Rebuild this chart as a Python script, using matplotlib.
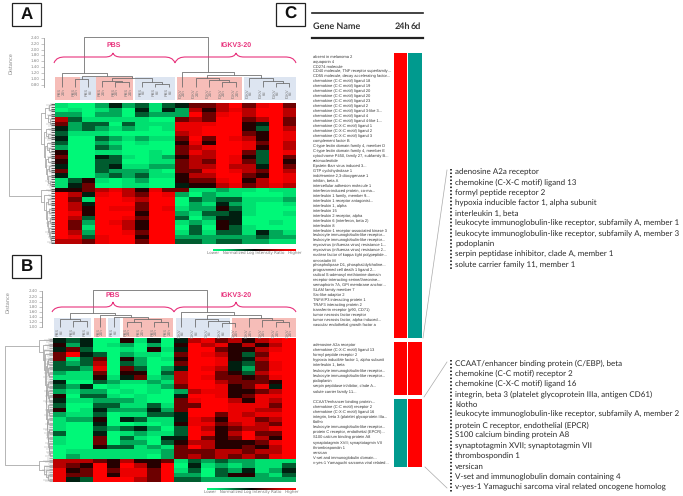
import matplotlib
matplotlib.use("Agg")
import numpy as np
import matplotlib.pyplot as plt
from matplotlib.colors import LinearSegmentedColormap
from matplotlib.path import Path
from matplotlib.patches import PathPatch

plt.rcParams["text.hinting"] = "none"
plt.rcParams["text.hinting_factor"] = 1

# HEATMAP VALUES (0 = full green, 9 = full red, one string per gene row)
heat_a = [
    "100242313466796896", "010120414275787997", "220220322296897997",
    "731111100676996796", "623303111888995496", "423212101889995397",
    "311100000789996598", "400321211696987598", "300210100585998697",
    "200320000678998597", "500110010687996398", "600431012577985396",
    "500330011676986395", "400341122677977496", "600322210668987697",
    "400232311577996598", "135101200566895798", "146001100455786787",
    "556787586611211011", "974897698202110001", "961998799032331112",
    "974999699021421001", "975988698122531000", "985999599213341001",
    "973998699302440000", "962987599121540010", "961997599030531000",
    "972998699131331421", "983899599222222322", "776899699332332211",
]
heat_b = [
    "434005140478675789", "524012020597857579", "463001051499655789",
    "694302110698753699", "613605201599854799", "323703200699843689",
    "332806302498742689", "211605503799653799", "111514612798665689",
    "400321121799766659", "324010012699856849", "212201010278855679",
    "503310100499856889", "411222100689975879", "300331131669988869",
    "501422242699988779", "211301133499687889", "122504311487588679",
    "100400101588678769", "100323420397567789", "300401211398579669",
    "100603104496569759", "100602203577555689", "000533121697556579",
    "011111112666776779", "021111102676767689",
    "777657556132322111", "765959759041212113", "856968869130324124",
    "866958869220355213", "843999769332222222",
]

# ROW TREES: (merge height, left, right), leaves are row numbers
row_tree_a = (46,
    (14, (10, (6, 0, 1), (7, 2, (5, 3, 4))),
         (11, (9, 5, (7, 6, 7)),
              (10, (8, 8, (6, 9, 10)),
                   (9, (7, 11, 12), (8, (6, 13, 14), (7, 15, (5, 16, 17))))))),
    (14, 18, (11, 19, (9, (7, 20, 21),
                       (8, (6, 22, 23), (7, (5, 24, 25), (6, 26, (5, 27, (4, 28, 29)))))))))
row_tree_b = (48,
    (14, 0, (10, 1, (9, 2, (8, 3,
        (7, (6, (5, 4, 5), (5, 6, (4, 7, 8))),
            (7, (6, (5, 9, 10), (5, 11, (4, 12, 13))),
                (6, (5, 14, (4, 15, 16)),
                    (6, (5, 17, 18), (5, (4, 19, 20), (5, 21, (4, 22, (4, 23, (3, 24, 25))))))))))))),
    (14, 26, (9, 27, (7, 28, (5, 29, 30)))))
tuft_a = [9, 7, 8, 6, 9, 7, 8, 10, 7, 9, 6, 8, 7, 9, 8, 7, 10, 8,
          9, 7, 8, 9, 6, 8, 7, 9, 8, 10, 7, 8]
tuft_b = [9, 8, 10, 7, 9, 8, 7, 9, 10, 8, 7, 9, 8, 10, 7, 8, 9, 7, 8, 10, 9, 7, 8, 9, 7, 8,
          10, 9, 11, 9, 10]

# COLUMN TREES: heights measured up from the sample leaves
col_tree_a = (50,
    (14, 0, (11, (8, 1, 2), (9, (6, 3, (5, 4, 5)), (5, 6, (3, 7, 8))))),
    (15, 9, (12, (9, 10, (7, 11, (5, 12, 13))), (9, 14, (6, 15, (4, 16, 17))))))
col_tree_b = (37,
    (14, (8, 0, (6, 1, 2)), (12, 3, (10, 4, (8, (5, 5, 6), (5, 7, 8))))),
    (15, 9, (12, (8, 10, (6, 11, (4, 12, 13))), (9, 14, (7, 15, (5, 16, 17))))))

# SAMPLE GROUPS (first column edge, last column edge, group)
groups_a = [(-0.5, 1.33, "p"), (1.37, 2.56, "b"), (2.56, 5.3, "p"),
            (5.5, 8.45, "b"), (8.6, 13.5, "p"), (13.6, 17.5, "b")]
groups_b = [(-0.43, 2.31, "b"), (2.54, 3.43, "p"), (3.57, 4.46, "b"),
            (4.69, 8.39, "p"), (8.61, 12.6, "b"), (12.76, 17.5, "p")]
samples_a = ["PBS\n24h"] * 2 + ["PBS\n6d"] + ["PBS\n24h"] * 3 + ["PBS\n6d"] * 3 + \
            ["IGKV\n24h"] * 5 + ["IGKV\n6d"] * 4
samples_b = ["PBS\n6d"] * 3 + ["PBS\n24h"] + ["PBS\n6d"] + ["PBS\n24h"] * 4 + \
            ["IGKV\n6d"] * 4 + ["IGKV\n24h"] * 5
distance_ticks_a = [2, 8, 14, 20, 26, 32, 37, 43, 49]
distance_labels_a = ["0.80", "1.00", "1.20", "1.40", "1.60", "1.80", "2.00", "2.20", "2.40"]
distance_ticks_b = [0, 5, 10, 15, 20, 25, 30, 36]
distance_labels_b = ["1.00", "1.20", "1.40", "1.60", "1.80", "2.00", "2.20", "2.40"]

# GENE LISTS
genes_top = [
    "absent in melanoma 2", "aquaporin 4", "CD274 molecule",
    "CD40 molecule, TNF receptor superfamily...", "CD55 molecule, decay accelerating factor...",
    "chemokine (C-C motif) ligand 18", "chemokine (C-C motif) ligand 19",
    "chemokine (C-C motif) ligand 20", "chemokine (C-C motif) ligand 20",
    "chemokine (C-C motif) ligand 23", "chemokine (C-C motif) ligand 2",
    "chemokine (C-C motif) ligand 3-like 3...", "chemokine (C-C motif) ligand 4",
    "chemokine (C-C motif) ligand 4-like 1...", "chemokine (C-X-C motif) ligand 1",
    "chemokine (C-X-C motif) ligand 2", "chemokine (C-X-C motif) ligand 3",
    "complement factor B", "C-type lectin domain family 4, member D",
    "C-type lectin domain family 4, member E", "cytochrome P450, family 27, subfamily B...",
    "ectonucleotide", "Epstein-Barr virus induced 3...", "GTP cyclohydrolase 1",
    "indoleamine 2,3-dioxygenase 1", "inhibin, beta A", "intercellular adhesion molecule 1",
    "interferon-induced protein, co-ma...", "interleukin 1 family, member 9...",
    "interleukin 1 receptor antagonist...", "interleukin 1, alpha", "interleukin 15",
    "interleukin 2 receptor, alpha", "interleukin 6 (interferon, beta 2)", "interleukin 8",
    "interleukin-1 receptor-associated kinase 3", "leukocyte immunoglobulin-like receptor...",
    "leukocyte immunoglobulin-like receptor...", "myxovirus (influenza virus) resistance 1...",
    "myxovirus (influenza virus) resistance 2...", "nuclear factor of kappa light polypeptide...",
    "oncostatin M", "phospholipase D1, phosphatidylcholine...", "programmed cell death 1 ligand 2...",
    "radical S-adenosyl methionine domain", "receptor-interacting serine/threonine...",
    "semaphorin 7A, GPI membrane anchor...", "SLAM family member 7", "Src-like-adaptor 2",
    "TNFAIP3 interacting protein 1", "TRAF3 interacting protein 2",
    "transferrin receptor (p90, CD71)", "tumor necrosis factor receptor",
    "tumor necrosis factor, alpha-induced...", "vascular endothelial growth factor a",
]
genes_mid = [
    "adenosine A2a receptor", "chemokine (C-X-C motif) ligand 13", "formyl peptide receptor 2",
    "hypoxia inducible factor 1, alpha subunit", "interleukin 1, beta",
    "leukocyte immunoglobulin-like receptor...", "leukocyte immunoglobulin-like receptor...",
    "podoplanin", "serpin peptidase inhibitor, clade A...", "solute carrier family 11...",
]
genes_low = [
    "CCAAT/enhancer binding protein...", "chemokine (C-C motif) receptor 2",
    "chemokine (C-X-C motif) ligand 16", "integrin, beta 3 (platelet glycoprotein IIIa...",
    "klotho", "leukocyte immunoglobulin-like receptor...", "protein C receptor, endothelial (EPCR)...",
    "S100 calcium binding protein A8", "synaptotagmin XVII; synaptotagmin VII", "thrombospondin 1",
    "versican", "V-set and immunoglobulin domain...", "v-yes-1 Yamaguchi sarcoma viral related...",
]
callout_mid = [
    "adenosine A2a receptor", "chemokine (C-X-C motif) ligand 13", "formyl peptide receptor 2",
    "hypoxia inducible factor 1, alpha subunit", "interleukin 1, beta",
    "leukocyte immunoglobulin-like receptor, subfamily A, member 1",
    "leukocyte immunoglobulin-like receptor, subfamily A, member 3",
    "podoplanin", "serpin peptidase inhibitor, clade A, member 1", "solute carrier family 11, member 1",
]
callout_low = [
    "CCAAT/enhancer binding protein (C/EBP), beta", "chemokine (C-C motif) receptor 2",
    "chemokine (C-X-C motif) ligand 16", "integrin, beta 3 (platelet glycoprotein IIIa, antigen CD61)",
    "klotho", "leukocyte immunoglobulin-like receptor, subfamily A, member 2",
    "protein C receptor, endothelial (EPCR)", "S100 calcium binding protein A8",
    "synaptotagmin XVII; synaptotagmin VII", "thrombospondin 1", "versican",
    "V-set and immunoglobulin domain containing 4",
    "v-yes-1 Yamaguchi sarcoma viral related oncogene homolog",
]
# fold change direction per gene block, 24h then 6d
block_24h = ["red", "red", "teal"]
block_6d = ["teal", "red", "red"]

W, H = 683, 496
GREEN_RED = LinearSegmentedColormap.from_list("gr", [
    (0, "#00f878"), (0.11, "#00e070"), (0.22, "#00a858"), (0.33, "#005e30"), (0.5, "#000000"),
    (0.67, "#700000"), (0.78, "#b80000"), (0.89, "#ea0000"), (1, "#ff0000")])
BAR_COLORS = {"red": "#ff0000", "teal": "#009a8e"}
GROUP_COLORS = {"p": "#f6bdb8", "b": "#dde5f1"}
PINK = "#e8327c"


def px_axes(fig, x0, y0, x1, y1):
    # axes from pixel box, y measured from the top of the picture
    return fig.add_axes([x0 / W, 1 - y1 / H, (x1 - x0) / W, (y1 - y0) / H])


def draw_tree(ax, node, vertical, color, lw):
    # returns leaf position and height of this node
    if isinstance(node, int):
        return float(node), 0.0
    h, left, right = node
    p1, h1 = draw_tree(ax, left, vertical, color, lw)
    p2, h2 = draw_tree(ax, right, vertical, color, lw)
    xs = [p1, p1, p2, p2]
    ys = [h1, h, h, h2]
    if vertical:
        ax.plot(xs, ys, color=color, lw=lw, solid_capstyle="butt")
    else:
        ax.plot(ys, xs, color=color, lw=lw, solid_capstyle="butt")
    return (p1 + p2) / 2, h


def panel(fig, box, rows, row_tree, tuft, col_tree, groups, samples, leaf_y, rect_y,
          tick_vals, tick_labels, spine_x, dist_x, tuft_color):
    x0, y0, x1, y1 = box
    data = np.array([[int(c) for c in r] for r in rows])
    ax = px_axes(fig, x0, y0, x1, y1)
    ax.imshow(data, cmap=GREEN_RED, vmin=0, vmax=9, aspect="auto", interpolation="nearest")
    ax.axis("off")

    # row dendrogram on the left
    left = px_axes(fig, 0, y0, x0, y1)
    left.set_ylim(data.shape[0] - 0.5, -0.5)
    left.set_xlim(x0, 0)
    left.axis("off")
    draw_tree(left, row_tree, False, "#999999", 0.5)
    for i, t in enumerate(tuft):
        left.hlines([i - 0.3, i, i + 0.3], 0, [t * 0.6, t, t * 0.8], color="#aaaaaa", lw=0.35)
        left.hlines([i - 0.25, i + 0.25], 0, 4.5, color=tuft_color, lw=0.5)

    # column dendrogram on top
    top_px, bottom_px = leaf_y - 60, rect_y[1]
    tree = px_axes(fig, x0, top_px, x1, bottom_px)
    tree.set_xlim(-0.5, data.shape[1] - 0.5)
    tree.set_ylim(leaf_y - bottom_px, leaf_y - top_px)
    tree.patch.set_alpha(0)
    for a, b, g in groups:
        tree.fill_between([a, b], leaf_y - rect_y[0], leaf_y - rect_y[1],
                          color=GROUP_COLORS[g], lw=0)
    draw_tree(tree, col_tree, True, "#666666", 0.55)
    for c, s in enumerate(samples):
        tree.text(c, -1, s, rotation=90, fontsize=2.6, color="#777777",
                  ha="center", va="top", linespacing=1.0, fontfamily="Liberation Sans")
    tree.set_xticks([])
    for s in ["top", "right", "bottom"]:
        tree.spines[s].set_visible(False)
    tree.spines["left"].set_position(("outward", (x0 - spine_x) * 0.72))
    tree.spines["left"].set_bounds(0, max(tick_vals))
    tree.spines["left"].set_color("#999999")
    tree.spines["left"].set_linewidth(0.6)
    tree.set_yticks(tick_vals, tick_labels)
    tree.tick_params(axis="y", length=2, width=0.4, color="#999999", labelsize=2.6,
                     labelcolor="#888888", pad=1)
    tree.set_ylabel("Distance", fontsize=3.4, color="#888888", labelpad=0)
    tree.yaxis.set_label_coords((dist_x - x0) / (x1 - x0), 0.5)


def brace(ax, x0, x1, xp, y_end, y_flat, y_peak):
    verts = [(x0, y_end), (x0 + 2, y_flat + 1), (x0 + 6, y_flat), (x0 + 11, y_flat),
             (xp - 8, y_flat), (xp - 4, y_flat), (xp - 1, y_flat - 1), (xp, y_peak),
             (xp + 1, y_flat - 1), (xp + 4, y_flat), (xp + 8, y_flat),
             (x1 - 11, y_flat), (x1 - 6, y_flat), (x1 - 2, y_flat + 1), (x1, y_end)]
    codes = [Path.MOVETO, Path.CURVE4, Path.CURVE4, Path.CURVE4, Path.LINETO,
             Path.CURVE4, Path.CURVE4, Path.CURVE4, Path.CURVE4, Path.CURVE4, Path.CURVE4,
             Path.LINETO, Path.CURVE4, Path.CURVE4, Path.CURVE4]
    ax.add_patch(PathPatch(Path(verts, codes), fc="none", ec=PINK, lw=0.8))


def colour_key(fig, ov, x0, x1, y):
    key = px_axes(fig, x0, y, x1, y + 2.4)
    key.imshow(np.linspace(0, 1, 128)[None, :], cmap=GREEN_RED, aspect="auto")
    key.axis("off")
    ov.text((x0 + x1) / 2, y + 4, "Lower   Normalized Log Intensity Ratio   Higher",
            fontsize=2.6, color="#777777", ha="center", va="center")


fig = plt.figure(figsize=(W / 100, H / 100), dpi=100)

panel(fig, (55, 103, 296, 244), heat_a, row_tree_a, tuft_a, col_tree_a, groups_a, samples_a,
      87, (77, 100), distance_ticks_a, distance_labels_a, 44, 13, "#222222")
panel(fig, (53, 338, 296, 482), heat_b, row_tree_b, tuft_b, col_tree_b, groups_b, samples_b,
      327, (318, 337), distance_ticks_b, distance_labels_b, 42, 10, "#999999")

# overlay in pixel coordinates for frames, text and gene columns
ov = fig.add_axes([0, 0, 1, 1], zorder=5)
ov.set_xlim(0, W)
ov.set_ylim(H, 0)
ov.axis("off")
ov.patch.set_alpha(0)

for lab, x0, y0 in [("A", 12, 3), ("C", 276, 3), ("B", 12, 255)]:
    ov.add_patch(plt.Rectangle((x0, y0), 29, 23, fc="white", ec="#222222", lw=0.9))
    ov.text(x0 + 14.5, y0 + 11.5, lab, fontsize=12, fontweight="bold", ha="center",
            va="center", color="#111111", fontfamily="Liberation Sans")

brace(ov, 54, 175, 113, 63, 57, 53)
brace(ov, 175, 296, 236, 63, 57, 53)
brace(ov, 52, 174, 113, 312, 307, 302)
brace(ov, 174, 296, 236, 312, 307, 302)
for x, y, s in [(114, 45.5, "PBS"), (236, 45.5, "IGKV3-20"), (113, 295, "PBS"), (236, 295, "IGKV3-20")]:
    ov.text(x, y, s, color=PINK, fontsize=5, fontweight="bold", ha="center", va="center",
            fontfamily="Liberation Sans")

colour_key(fig, ov, 213, 296, 248.5)
colour_key(fig, ov, 207, 296, 487.5)

# panel C header
ov.plot([312, 423], [13, 13], color="#222222", lw=1.2)
ov.plot([312, 423], [38, 38], color="#222222", lw=1.6)
ov.text(313, 26, "Gene Name", fontsize=6.6, fontweight="bold", color="#333333", va="center",
        fontfamily="Lato")
ov.text(395, 26, "24h", fontsize=6.6, fontweight="bold", color="#333333", va="center", fontfamily="Lato")
ov.text(411, 26, "6d", fontsize=6.6, fontweight="bold", color="#333333", va="center", fontfamily="Lato")

# gene columns and direction bars
blocks = [(genes_top, 56.7, 4.97, 53, 338), (genes_mid, 345, 5.2, 341.5, 394.5), (genes_low, 401.7, 5.12, 398.5, 467)]
for k, (names, y_first, dy, y_top, y_bot) in enumerate(blocks):
    for i, g in enumerate(names):
        ov.text(313, y_first + i * dy, g, fontsize=3.2, color="#333333", va="center",
                fontfamily="Liberation Sans")
    ov.bar([400.5, 415], y_bot - y_top, width=[13.4, 13.6], bottom=y_top,
           color=[BAR_COLORS[block_24h[k]], BAR_COLORS[block_6d[k]]], lw=0)

# call-out lists
for names, y_first, dy in [(callout_mid, 172.3, 10.3), (callout_low, 362.7, 10.42)]:
    ys = [y_first + i * dy for i in range(len(names))]
    for y, g in zip(ys, names):
        ov.text(455, y, g, fontsize=5.65, color="#2a2a2a", va="center", fontfamily="Lato")
    ov.plot([451, 451], [ys[0] - 3, ys[-1] + 4], color="black", lw=1.1, ls=(0, (1, 1.3)))

# thin connectors
for xs, ys in [([423, 447], [338, 170]), ([424, 447], [397, 362]), ([425, 447], [467, 488])]:
    ov.plot(xs, ys, color="#aaaaaa", lw=0.5)

fig.savefig("out.png", dpi=100, facecolor="white")
